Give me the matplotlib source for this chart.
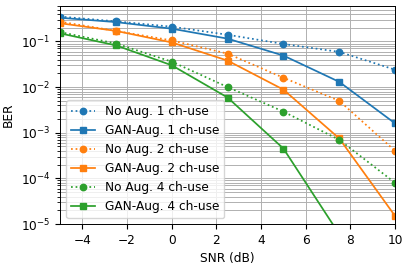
import numpy as np
import matplotlib
matplotlib.use('Agg')
from matplotlib import pyplot as plt

snr = [-5, -2.5, 0, 2.5, 5, 7.5, 10]

noaug_1 = [0.35, 0.275, 0.21, 0.14, 0.088, 0.059, 0.024]
gan_1 = [0.33, 0.265, 0.19, 0.115, 0.049, 0.013, 0.0016]
noaug_2 = [0.27, 0.17, 0.105, 0.054, 0.016, 0.005, 0.0004]
gan_2 = [0.25, 0.17, 0.095, 0.038, 0.0088, 0.00075, 0.000015]
noaug_4 = [0.16, 0.09, 0.036, 0.010, 0.0029, 0.0007, 0.00008]
gan_4 = [0.15, 0.082, 0.030, 0.0059, 0.00045, 0.000006, 0.0000001]

plt.rcParams['font.size'] = 8.7
plt.rcParams['lines.markersize'] = 4.6
plt.rcParams['lines.linewidth'] = 1.25
plt.rcParams['grid.linewidth'] = 0.7
plt.rcParams['axes.linewidth'] = 0.7

fig, ax = plt.subplots(figsize=(4.09, 2.68), dpi=100)
ax.semilogy(snr, noaug_1, 'o:', color='C0', label='No Aug. 1 ch-use')
ax.semilogy(snr, gan_1, 's-', color='C0', label='GAN-Aug. 1 ch-use')
ax.semilogy(snr, noaug_2, 'o:', color='C1', label='No Aug. 2 ch-use')
ax.semilogy(snr, gan_2, 's-', color='C1', label='GAN-Aug. 2 ch-use')
ax.semilogy(snr, noaug_4, 'o:', color='C2', label='No Aug. 4 ch-use')
ax.semilogy(snr, gan_4, 's-', color='C2', label='GAN-Aug. 4 ch-use')

ax.set_xlim(-5, 10)
ax.set_ylim(1e-5, 0.6)
ax.set_xlabel('SNR (dB)')
ax.set_ylabel('BER')
ax.grid(True, which='major')
ax.grid(True, which='minor', axis='y')
ax.legend(loc='lower left')

fig.subplots_adjust(left=0.147, right=0.966, top=0.978, bottom=0.164)
fig.savefig('out.png', dpi=100)
